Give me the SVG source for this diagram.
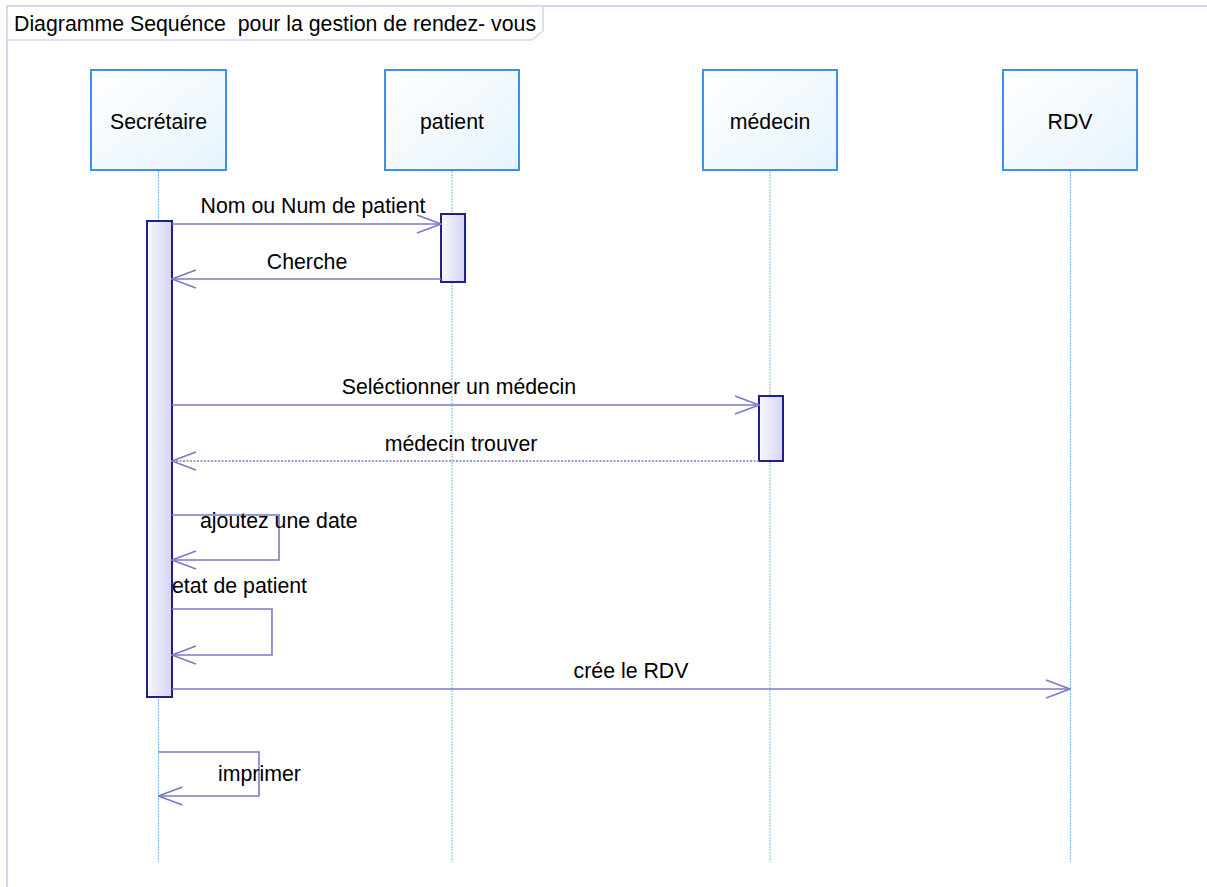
<svg xmlns="http://www.w3.org/2000/svg" width="1207" height="887" viewBox="0 0 1207 887">
  <defs>
    <linearGradient id="headFill" x1="0" y1="0" x2="1" y2="1">
      <stop offset="0" stop-color="#ffffff"/>
      <stop offset="1" stop-color="#e6f3fc"/>
    </linearGradient>
    <linearGradient id="actFill" x1="0" y1="0" x2="1" y2="0">
      <stop offset="0" stop-color="#f8f8ff"/>
      <stop offset="1" stop-color="#d4d4f4"/>
    </linearGradient>
    <marker id="open" viewBox="0 0 26 20" refX="25" refY="10" markerWidth="26" markerHeight="20" markerUnits="userSpaceOnUse" orient="auto">
      <path d="M1,1 L25,10 L1,19" fill="none" stroke="#7b7bc4" stroke-width="1.6"/>
    </marker>
    <style>
      text { font-family: "Liberation Sans", Arial, sans-serif; font-size: 21.3px; fill: #000; white-space: pre; }
      .frame { fill: none; stroke: #d4d4ee; stroke-width: 2; }
      .tab { fill: #fff; stroke: #d4d4ee; stroke-width: 1.5; }
      .head { fill: url(#headFill); stroke: #3d8ff0; stroke-width: 2; }
      .life { stroke: #7ab8f5; stroke-width: 1; stroke-dasharray: 2 1; }
      .act { fill: url(#actFill); stroke: #20208c; stroke-width: 2; }
      .msg { fill: none; stroke: #7b7bc4; stroke-width: 1.6; marker-end: url(#open); }
      .reply { stroke-dasharray: 2 1.5; }
      .mid { text-anchor: middle; }
    </style>
  </defs>

  <!-- diagram frame and title tab -->
  <g id="frame">
    <path class="frame" d="M7,887 V6 H1207"/>
    <path class="tab" d="M7,6 H543 V31 L532,40 H7 Z"/>
    <text x="14" y="31" xml:space="preserve">Diagramme Sequénce  pour la gestion de rendez- vous</text>
  </g>

  <!-- lifelines -->
  <g id="secretaire">
    <line class="life" x1="158.5" y1="171" x2="158.5" y2="862"/>
    <rect class="head" x="91" y="70" width="135" height="100"/>
    <text class="mid" x="158.5" y="129">Secrétaire</text>
    <rect class="act" x="147" y="221" width="25" height="476"/>
  </g>
  <g id="patient">
    <line class="life" x1="452" y1="171" x2="452" y2="862"/>
    <rect class="head" x="385" y="70" width="134" height="100"/>
    <text class="mid" x="452" y="129">patient</text>
    <rect class="act" x="441" y="214" width="24" height="68"/>
  </g>
  <g id="medecin">
    <line class="life" x1="770" y1="171" x2="770" y2="862"/>
    <rect class="head" x="703" y="70" width="134" height="100"/>
    <text class="mid" x="770" y="129">médecin</text>
    <rect class="act" x="759" y="396" width="24" height="65"/>
  </g>
  <g id="rdv">
    <line class="life" x1="1070.5" y1="171" x2="1070.5" y2="862"/>
    <rect class="head" x="1003" y="70" width="134" height="100"/>
    <text class="mid" x="1070" y="129">RDV</text>
  </g>

  <!-- messages -->
  <g id="connectors">
    <line class="msg" x1="172" y1="224" x2="441" y2="224"/>
    <line class="msg" x1="441" y1="279" x2="172" y2="279"/>
    <line class="msg" x1="172" y1="405" x2="759" y2="405"/>
    <line class="msg reply" x1="759" y1="461" x2="172" y2="461"/>
    <path class="msg" d="M172,515 H279 V560 H172"/>
    <path class="msg" d="M172,609 H272 V655 H172"/>
    <line class="msg" x1="172" y1="689" x2="1070" y2="689"/>
    <path class="msg" d="M158.5,752 H259 V796 H158.5"/>
  </g>

  <!-- message labels -->
  <g id="labels">
    <text class="mid" x="313" y="213">Nom ou Num de patient</text>
    <text class="mid" x="307" y="269">Cherche</text>
    <text class="mid" x="459" y="394">Seléctionner un médecin</text>
    <text class="mid" x="461" y="451">médecin trouver</text>
    <text x="200" y="528">ajoutez une date</text>
    <text x="172" y="593">etat de patient</text>
    <text class="mid" x="631" y="678">crée le RDV</text>
    <text x="218" y="781">imprimer</text>
  </g>
</svg>
